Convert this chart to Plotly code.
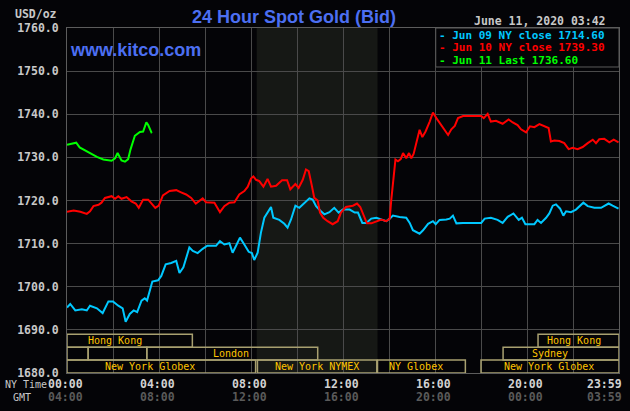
import plotly.graph_objects as go

# ---------------- data (hour of NY day, price USD/oz) ----------------
JUN09 = [(0.00, 1695.2), (0.14, 1696.0), (0.36, 1694.5), (0.65, 1694.8), (0.86, 1694.5), (1.00, 1695.6),
         (1.30, 1695.0), (1.55, 1693.9), (1.80, 1696.6), (2.00, 1696.6), (2.23, 1695.6), (2.42, 1695.0),
         (2.55, 1691.9), (2.73, 1693.7), (2.90, 1694.5), (3.05, 1694.1), (3.24, 1696.8), (3.38, 1697.3),
         (3.48, 1696.8), (3.71, 1701.2), (3.96, 1701.5), (4.10, 1702.5), (4.29, 1705.2), (4.53, 1705.5),
         (4.75, 1706.0), (4.89, 1703.2), (5.06, 1704.5), (5.18, 1706.4), (5.32, 1709.1), (5.47, 1708.3),
         (5.68, 1707.8), (5.90, 1708.8), (6.10, 1709.5), (6.26, 1709.5), (6.48, 1709.5), (6.65, 1710.6),
         (6.84, 1709.8), (7.06, 1710.1), (7.20, 1707.9), (7.35, 1709.5), (7.52, 1711.4), (7.71, 1709.8),
         (7.90, 1708.1), (8.04, 1707.8), (8.14, 1706.2), (8.29, 1707.9), (8.43, 1712.5), (8.58, 1716.0),
         (8.72, 1717.3), (8.87, 1718.5), (8.97, 1716.0), (9.23, 1715.5), (9.45, 1714.6), (9.59, 1713.7),
         (9.74, 1715.6), (9.93, 1718.8), (10.10, 1718.3), (10.32, 1719.3), (10.54, 1720.5), (10.68, 1720.2),
         (10.83, 1718.7), (11.04, 1717.5), (11.19, 1716.8), (11.41, 1717.3), (11.62, 1718.3), (11.81, 1717.2),
         (11.99, 1717.9), (12.29, 1717.9), (12.51, 1717.2), (12.65, 1717.2), (12.84, 1714.8), (13.01, 1714.8),
         (13.23, 1715.8), (13.45, 1716.0), (13.67, 1715.5), (13.88, 1715.2), (14.03, 1715.8), (14.17, 1716.5),
         (14.46, 1716.2), (14.75, 1716.0), (14.90, 1714.8), (15.04, 1713.1), (15.33, 1712.3), (15.48, 1713.1),
         (15.70, 1714.6), (15.91, 1715.2), (16.03, 1714.5), (16.20, 1715.5), (16.49, 1715.6), (16.64, 1715.8),
         (16.78, 1716.5), (16.93, 1714.7), (17.22, 1714.8), (17.65, 1714.8), (18.01, 1714.8), (18.16, 1715.8),
         (18.43, 1716.0), (18.72, 1715.5), (18.94, 1714.8), (19.16, 1716.2), (19.41, 1717.0), (19.64, 1715.5),
         (19.78, 1716.0), (19.93, 1714.5), (20.17, 1714.5), (20.32, 1714.5), (20.46, 1715.5), (20.61, 1714.8),
         (20.83, 1716.0), (20.97, 1717.0), (21.12, 1718.8), (21.26, 1719.1), (21.44, 1718.1), (21.58, 1716.5),
         (21.70, 1717.5), (21.91, 1717.3), (22.13, 1717.9), (22.28, 1718.7), (22.45, 1719.5), (22.64, 1718.7),
         (22.93, 1718.3), (23.22, 1718.3), (23.36, 1718.8), (23.55, 1719.3), (23.72, 1718.8), (23.98, 1718.1)]

JUN10 = [(0.00, 1717.4), (0.29, 1717.7), (0.58, 1717.4), (0.86, 1716.9), (1.00, 1717.5), (1.15, 1718.7),
         (1.37, 1719.0), (1.50, 1719.5), (1.65, 1720.6), (1.94, 1721.0), (2.09, 1720.4), (2.23, 1721.0),
         (2.37, 1720.4), (2.59, 1720.8), (2.80, 1719.8), (2.99, 1719.3), (3.12, 1718.3), (3.31, 1720.2),
         (3.53, 1720.2), (3.67, 1719.3), (3.84, 1718.3), (3.99, 1718.8), (4.17, 1721.2), (4.46, 1722.2),
         (4.75, 1722.4), (4.96, 1721.9), (5.18, 1721.4), (5.40, 1720.6), (5.60, 1719.3), (5.90, 1720.5),
         (6.04, 1719.6), (6.41, 1719.5), (6.65, 1717.3), (6.84, 1718.7), (7.06, 1719.5), (7.28, 1719.6),
         (7.49, 1721.4), (7.71, 1722.2), (7.86, 1723.2), (8.00, 1725.1), (8.10, 1725.6), (8.22, 1724.8),
         (8.36, 1724.5), (8.54, 1723.2), (8.72, 1725.0), (8.87, 1723.2), (9.09, 1723.4), (9.35, 1724.7),
         (9.57, 1724.7), (9.71, 1722.6), (9.93, 1723.8), (10.07, 1722.9), (10.25, 1724.8), (10.39, 1727.2),
         (10.51, 1726.8), (10.65, 1723.3), (10.75, 1720.6), (10.90, 1720.0), (11.00, 1717.2), (11.14, 1716.0),
         (11.33, 1715.2), (11.55, 1714.5), (11.77, 1715.2), (11.91, 1717.2), (12.13, 1718.5), (12.43, 1718.8),
         (12.61, 1719.3), (12.75, 1718.5), (12.90, 1716.4), (13.04, 1714.7), (13.23, 1714.7), (13.45, 1715.2),
         (13.67, 1715.6), (13.88, 1715.2), (14.03, 1715.8), (14.10, 1720.2), (14.20, 1724.8), (14.28, 1729.5),
         (14.39, 1729.1), (14.51, 1729.6), (14.61, 1731.0), (14.75, 1729.8), (14.87, 1731.0), (14.97, 1729.8),
         (15.07, 1730.8), (15.19, 1733.3), (15.33, 1736.4), (15.45, 1734.7), (15.59, 1736.0), (15.77, 1738.3),
         (15.91, 1740.4), (16.06, 1739.1), (16.28, 1737.5), (16.46, 1736.0), (16.57, 1735.2), (16.71, 1736.5),
         (16.86, 1737.3), (17.00, 1739.1), (17.22, 1739.6), (17.65, 1739.6), (18.01, 1739.6), (18.12, 1739.1),
         (18.29, 1740.1), (18.43, 1738.3), (18.65, 1738.5), (18.94, 1737.8), (19.20, 1738.8), (19.38, 1738.1),
         (19.59, 1737.5), (19.74, 1736.5), (19.96, 1735.8), (20.13, 1737.2), (20.32, 1737.0), (20.54, 1737.7),
         (20.75, 1737.2), (20.94, 1736.8), (21.04, 1733.7), (21.19, 1733.9), (21.41, 1733.8), (21.62, 1733.3),
         (21.81, 1731.9), (21.99, 1732.2), (22.20, 1731.9), (22.42, 1732.4), (22.64, 1733.3), (22.86, 1734.1),
         (23.00, 1733.3), (23.14, 1734.2), (23.36, 1734.3), (23.58, 1733.5), (23.77, 1734.1), (23.98, 1733.5)]

JUN11 = [(0.00, 1732.9), (0.20, 1733.2), (0.40, 1733.4), (0.55, 1732.3), (0.72, 1731.8), (1.00, 1730.8),
         (1.30, 1730.1), (1.58, 1729.5), (1.94, 1729.2), (2.09, 1729.8), (2.20, 1731.0), (2.37, 1729.3),
         (2.52, 1729.0), (2.66, 1729.6), (2.76, 1731.8), (2.95, 1735.0), (3.17, 1735.9), (3.31, 1736.0),
         (3.38, 1737.2), (3.45, 1738.1), (3.53, 1737.5), (3.67, 1735.8), (3.70, 1735.9)]

SERIES_NAMES = ["Jun 09 NY close 1714.60", "Jun 10 NY close 1739.30", "Jun 11 Last 1736.60"]
SERIES_COLORS = ["#00c8ff", "#ff0000", "#00ff00"]

Y_TICKS = [1680, 1690, 1700, 1710, 1720, 1730, 1740, 1750, 1760]
LABEL_HOURS = [0, 4, 8, 12, 16, 20, 24]
NY_TIME_LABELS = ["00:00", "04:00", "08:00", "12:00", "16:00", "20:00", "23:59"]
GMT_LABELS = ["04:00", "08:00", "12:00", "16:00", "20:00", "00:00", "03:59"]

PIT_SESSION = (8.25, 13.5)  # NYMEX pit hours (shaded)

# (row, start hour, end hour, label, label hour)
SESSIONS = [
    (1, 0.0, 5.45, "Hong Kong", 2.09),
    (1, 20.48, 24.0, "Hong Kong", 22.04),
    (2, 0.0, 0.92, "", None),
    (2, 0.92, 3.47, "", None),
    (2, 3.47, 10.9, "London", 7.13),
    (2, 18.96, 24.0, "Sydney", 21.0),
    (3, 0.0, 8.2, "New York Globex", 3.61),
    (3, 8.28, 13.47, "New York NYMEX", 10.87),
    (3, 13.5, 17.32, "NY Globex", 15.17),
    (3, 18.0, 24.0, "New York Globex", 20.96),
]
ROW_TOP = {1: 1689.0, 2: 1686.0, 3: 1683.0}

# ---------------- styling ----------------
BG = "#040407"
GRID = "#4a4a4a"
FRAME = "#5c5c5c"
MONO = "DejaVu Sans Mono"
BLUE = "#4c6ff2"
BOX_LINE = "#a8a070"
BOX_TEXT = "#ffc400"

fig = go.Figure()

for data, name, color in zip([JUN09, JUN10, JUN11], SERIES_NAMES, SERIES_COLORS):
    xs = [p[0] for p in data]
    ys = [p[1] for p in data]
    fig.add_trace(go.Scatter(x=xs, y=ys, mode="lines", name=name,
                             line=dict(color=color, width=2), showlegend=False))

shapes = []
# pit session shading
shapes.append(dict(type="rect", xref="x", yref="paper", x0=PIT_SESSION[0], x1=PIT_SESSION[1],
                   y0=0, y1=1, fillcolor="#161815", line=dict(width=0), layer="below"))

annotations = []
for row, s, e, label, lh in SESSIONS:
    top = ROW_TOP[row]
    shapes.append(dict(type="rect", xref="x", yref="y", x0=s, x1=e, y0=top - 3, y1=top,
                       line=dict(color=BOX_LINE, width=1.5), fillcolor="rgba(0,0,0,0)", layer="above"))
    if label:
        annotations.append(dict(x=lh, y=top - 1.5, xref="x", yref="y", text=label, showarrow=False,
                                xanchor="center", yanchor="middle",
                                font=dict(family=MONO, size=10, color=BOX_TEXT)))

# legend box
shapes.append(dict(type="rect", xref="paper", yref="paper", x0=0.668, x1=1.0, y0=0.887, y1=1.0,
                   fillcolor=BG, line=dict(color=FRAME, width=1), layer="above"))
for i, (name, color) in enumerate(zip(SERIES_NAMES, SERIES_COLORS)):
    annotations.append(dict(x=0.670, y=0.9797 - i * 0.0363, xref="paper", yref="paper",
                            text="- " + name, showarrow=False, xanchor="left", yanchor="middle",
                            font=dict(family=MONO, size=11, color=color, weight="bold")))

# titles and texts
annotations += [
    dict(x=0.412, y=1.032, xref="paper", yref="paper", text="24 Hour Spot Gold (Bid)",
         showarrow=False, xanchor="center", yanchor="middle",
         font=dict(family="Liberation Sans", size=18, color=BLUE, weight="bold")),
    dict(x=0.0018, y=0.936, xref="paper", yref="paper", text="www.kitco.com",
         showarrow=False, xanchor="left", yanchor="middle",
         font=dict(family="Liberation Sans", size=18, color=BLUE, weight="bold")),
    dict(x=-0.0145, y=1.0406, xref="paper", yref="paper", text="USD/oz",
         showarrow=False, xanchor="right", yanchor="middle",
         font=dict(family=MONO, size=11.5, color="#c8c8c8", weight="bold")),
    dict(x=0.98, y=1.0203, xref="paper", yref="paper", text="June 11, 2020 03:42",
         showarrow=False, xanchor="right", yanchor="middle",
         font=dict(family=MONO, size=11.5, color="#c8c8c8", weight="bold")),
    dict(x=-0.1159, y=-0.0319, xref="paper", yref="paper", text="NY Time",
         showarrow=False, xanchor="left", yanchor="middle",
         font=dict(family=MONO, size=10, color="#c8c8c8")),
    dict(x=-0.1014, y=-0.0696, xref="paper", yref="paper", text="GMT",
         showarrow=False, xanchor="left", yanchor="middle",
         font=dict(family=MONO, size=10, color="#c8c8c8")),
]
for h, ny, gmt in zip(LABEL_HOURS, NY_TIME_LABELS, GMT_LABELS):
    last = h == LABEL_HOURS[-1]
    for txt, yv, col in ((ny, -0.0319, "#d2d2d2"), (gmt, -0.0696, "#5a5a5a")):
        annotations.append(dict(x=h, y=yv, xref="x", yref="paper", text=txt, showarrow=False,
                                xanchor="right" if last else "center", yanchor="middle",
                                xshift=5 if last else -1.5,
                                font=dict(family=MONO, size=11.5, color=col, weight="bold")))

fig.update_layout(
    width=630, height=411,
    margin=dict(l=67, r=11, t=28, b=38),
    paper_bgcolor=BG, plot_bgcolor=BG,
    showlegend=False,
    shapes=shapes,
    annotations=annotations,
    xaxis=dict(range=[0, 24], tick0=0, dtick=2, showgrid=True, gridcolor=GRID, gridwidth=1,
               showticklabels=False, ticks="", zeroline=False,
               showline=True, mirror=True, linecolor=FRAME, linewidth=1),
    yaxis=dict(range=[1680, 1760], tickvals=Y_TICKS, tickformat=".1f", showgrid=True,
               gridcolor=GRID, gridwidth=1, ticks="", zeroline=False,
               showline=True, mirror=True, linecolor=FRAME, linewidth=1, ticklabelstandoff=5,
               tickfont=dict(family=MONO, size=11.5, color="#c8c8c8", weight="bold")),
)

fig.write_html("out.html")
